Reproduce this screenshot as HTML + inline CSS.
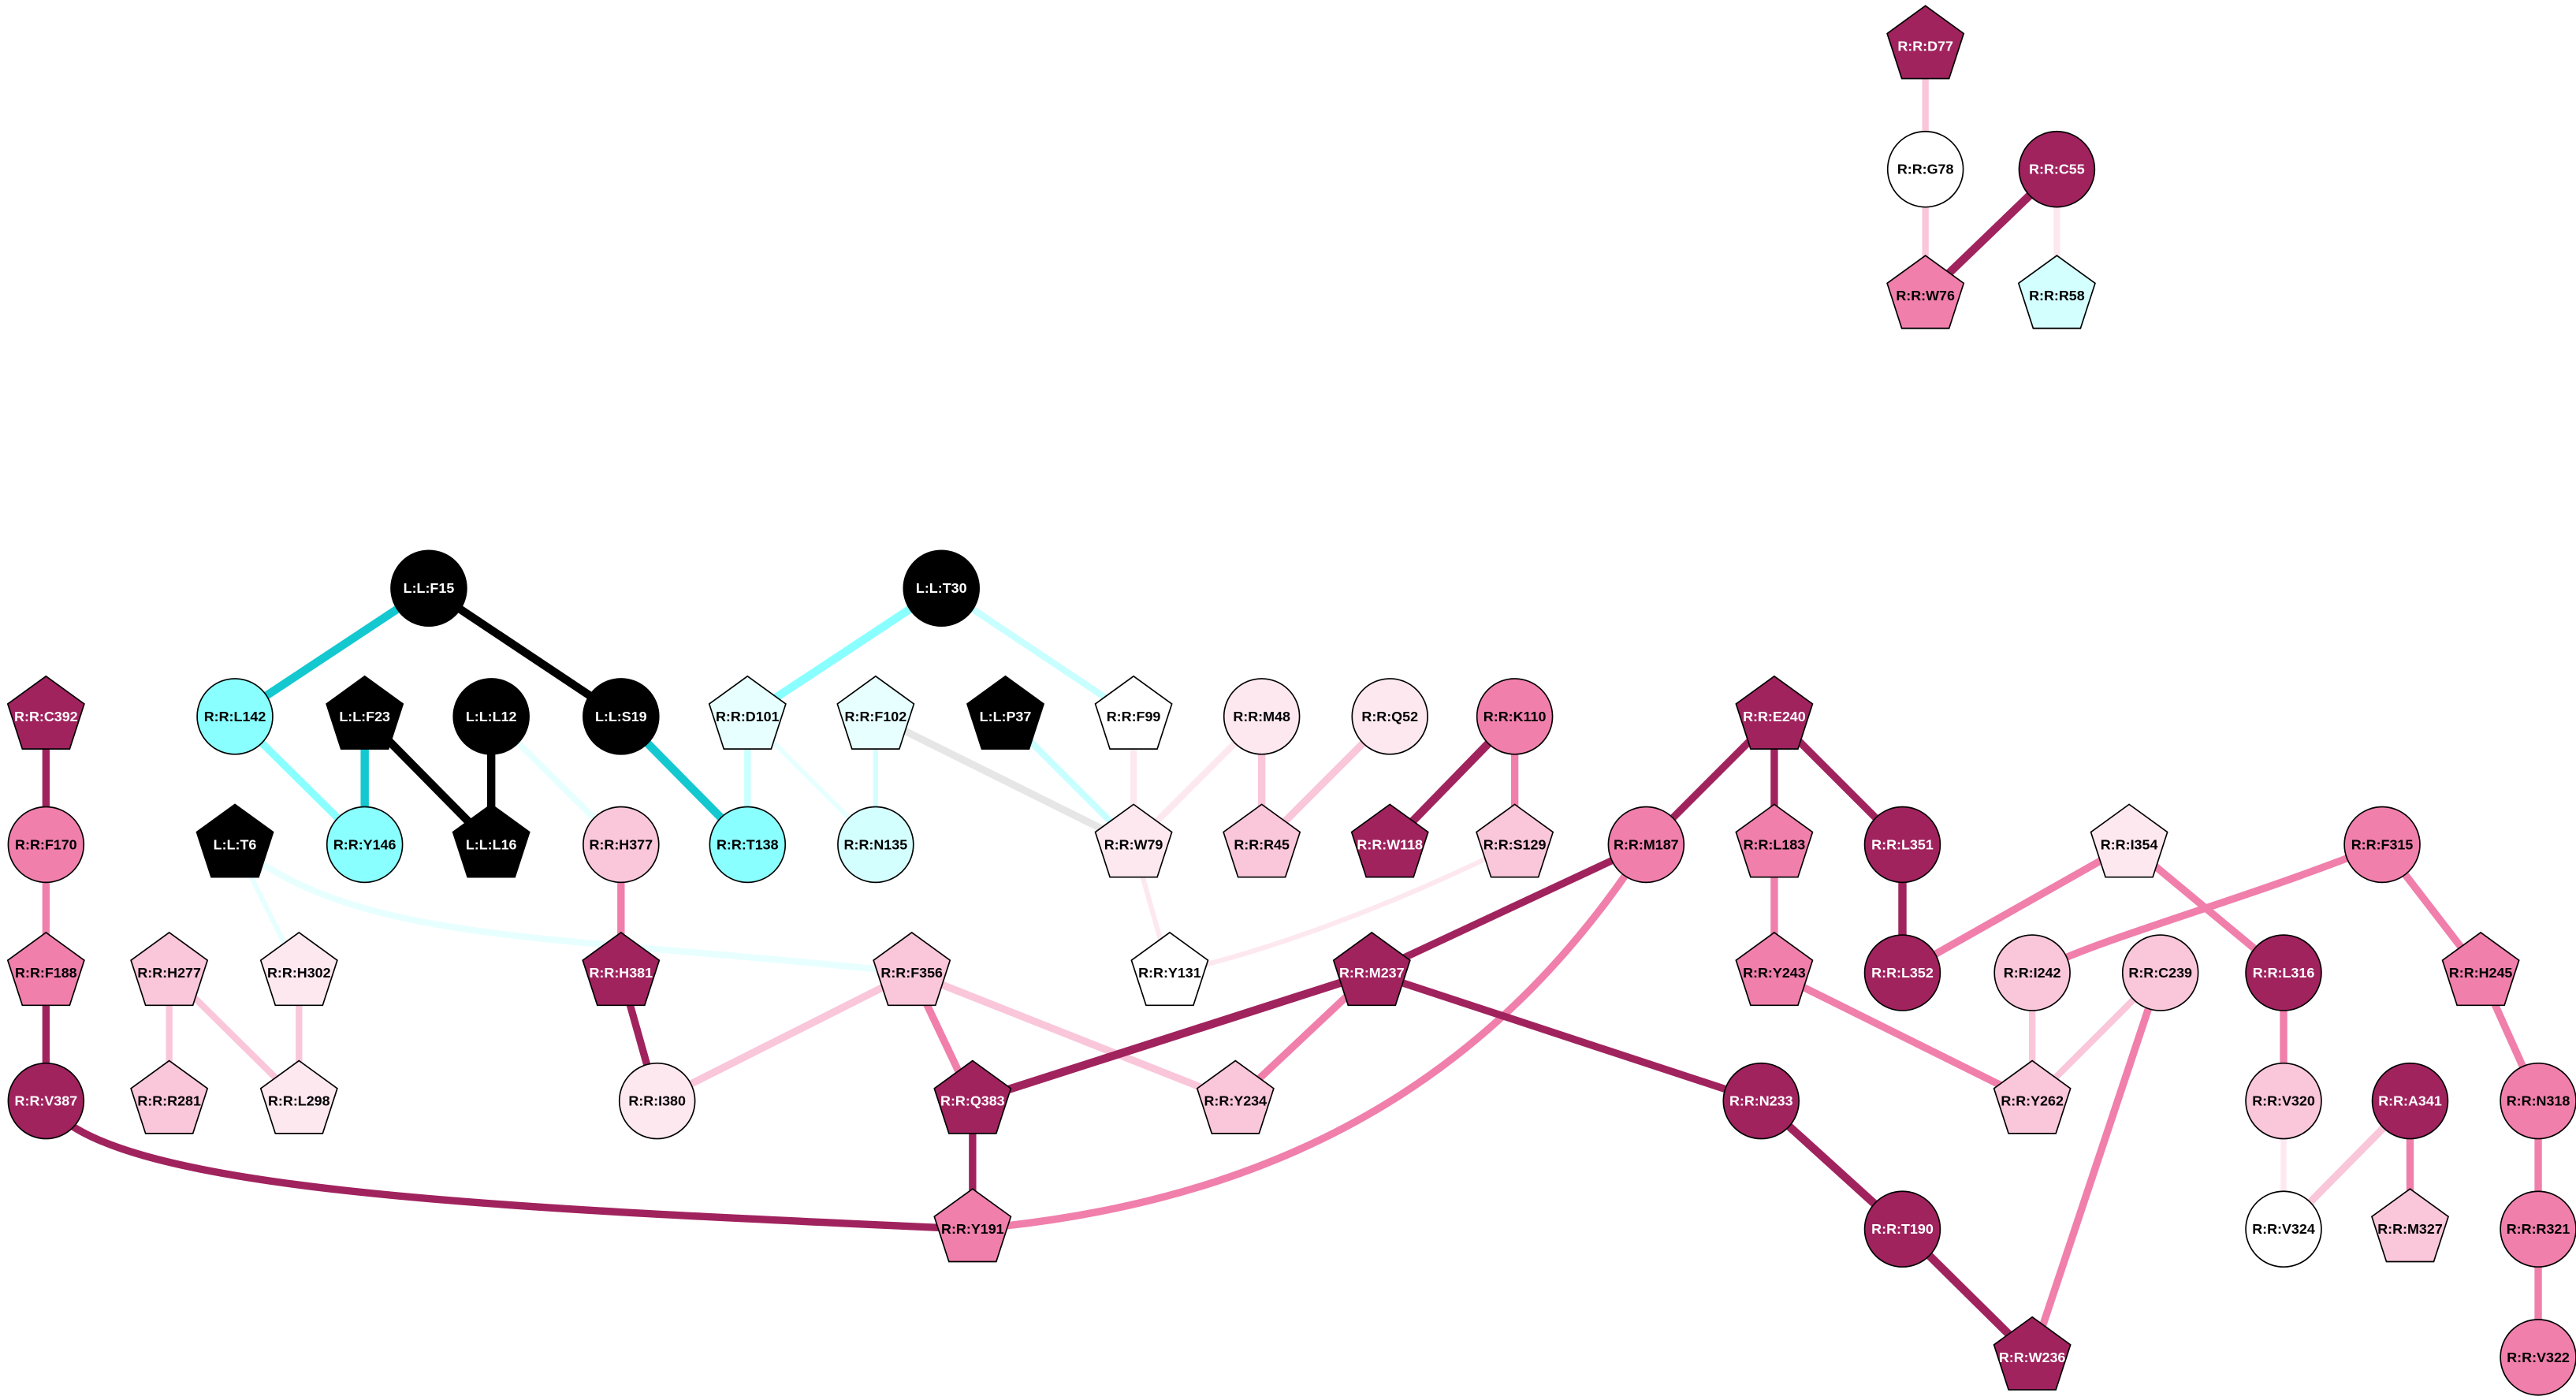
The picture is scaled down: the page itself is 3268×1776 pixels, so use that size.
<!DOCTYPE html>
<html><head><meta charset="utf-8"><style>html,body{margin:0;padding:0;background:#fff}svg{display:block}text{font-family:"Liberation Sans",sans-serif;font-weight:bold;font-size:8.6px;text-anchor:middle;dominant-baseline:central}</style></head>
<body>
<svg width="3268" height="1776" viewBox="0 0 1568 852" preserveAspectRatio="none" xmlns="http://www.w3.org/2000/svg">
<defs><polygon id="p" points="0,-24.5 23.3,-7.6 14.4,19.8 -14.4,19.8 -23.3,-7.6" stroke="#000" stroke-width="0.8"/></defs>
<g fill="none" stroke-linecap="butt">
<line x1="1172" y1="28" x2="1172" y2="103" stroke="#f9c6da" stroke-width="4"/>
<line x1="1172" y1="103" x2="1172" y2="180" stroke="#f9c6da" stroke-width="4"/>
<line x1="1252" y1="103" x2="1172" y2="180" stroke="#a0235e" stroke-width="5"/>
<line x1="1252" y1="103" x2="1252" y2="180" stroke="#fde8f0" stroke-width="4"/>
<line x1="261" y1="358" x2="143" y2="436" stroke="#14c8d0" stroke-width="5"/>
<line x1="261" y1="358" x2="378" y2="436" stroke="#000" stroke-width="5"/>
<line x1="573" y1="358" x2="455" y2="436" stroke="#8affff" stroke-width="5"/>
<line x1="573" y1="358" x2="690" y2="436" stroke="#c8ffff" stroke-width="4"/>
<line x1="28" y1="436" x2="28" y2="514" stroke="#a0235e" stroke-width="4.5"/>
<line x1="143" y1="436" x2="222" y2="514" stroke="#8affff" stroke-width="4.5"/>
<line x1="222" y1="436" x2="222" y2="514" stroke="#14c8d0" stroke-width="5"/>
<line x1="222" y1="436" x2="299" y2="514" stroke="#000" stroke-width="5"/>
<line x1="299" y1="436" x2="299" y2="514" stroke="#000" stroke-width="5"/>
<line x1="299" y1="436" x2="378" y2="514" stroke="#e8ffff" stroke-width="4"/>
<line x1="378" y1="436" x2="455" y2="514" stroke="#14c8d0" stroke-width="5"/>
<line x1="455" y1="436" x2="455" y2="514" stroke="#c8ffff" stroke-width="4"/>
<line x1="455" y1="436" x2="533" y2="514" stroke="#e8ffff" stroke-width="3"/>
<line x1="533" y1="436" x2="533" y2="514" stroke="#d4ffff" stroke-width="3"/>
<line x1="533" y1="436" x2="690" y2="514" stroke="#e6e6e6" stroke-width="4.5"/>
<line x1="612" y1="436" x2="690" y2="514" stroke="#c8ffff" stroke-width="4"/>
<line x1="690" y1="436" x2="690" y2="514" stroke="#fde8f0" stroke-width="4"/>
<line x1="768" y1="436" x2="690" y2="514" stroke="#fde8f0" stroke-width="4"/>
<line x1="768" y1="436" x2="768" y2="514" stroke="#f9c6da" stroke-width="4.5"/>
<line x1="846" y1="436" x2="768" y2="514" stroke="#f9c6da" stroke-width="4.5"/>
<line x1="922" y1="436" x2="846" y2="514" stroke="#a0235e" stroke-width="5"/>
<line x1="922" y1="436" x2="922" y2="514" stroke="#f07fab" stroke-width="4.5"/>
<line x1="1080" y1="436" x2="1002" y2="514" stroke="#a0235e" stroke-width="4.5"/>
<line x1="1080" y1="436" x2="1080" y2="514" stroke="#a0235e" stroke-width="4.5"/>
<line x1="1080" y1="436" x2="1158" y2="514" stroke="#a0235e" stroke-width="4.5"/>
<line x1="28" y1="514" x2="28" y2="592" stroke="#f07fab" stroke-width="4.5"/>
<line x1="143" y1="514" x2="182" y2="592" stroke="#e8ffff" stroke-width="3"/>
<path d="M143,514 C220,575 330,568 555,592" stroke="#e8ffff" stroke-width="4"/>
<line x1="378" y1="514" x2="378" y2="592" stroke="#f07fab" stroke-width="4.5"/>
<line x1="690" y1="514" x2="712" y2="592" stroke="#fde8f0" stroke-width="3"/>
<path d="M922,514 C850,550 770,580 712,592" stroke="#fde8f0" stroke-width="3"/>
<line x1="1002" y1="514" x2="835" y2="592" stroke="#a0235e" stroke-width="4.5"/>
<path d="M1002,514 C920,640 800,730 592,748" stroke="#f07fab" stroke-width="4.5"/>
<line x1="1080" y1="514" x2="1080" y2="592" stroke="#f07fab" stroke-width="4.5"/>
<line x1="1158" y1="514" x2="1158" y2="592" stroke="#a0235e" stroke-width="5"/>
<line x1="1296" y1="514" x2="1158" y2="592" stroke="#f07fab" stroke-width="4.5"/>
<line x1="1296" y1="514" x2="1390" y2="592" stroke="#f07fab" stroke-width="4.5"/>
<path d="M1450,514 C1360,550 1280,570 1237,592" stroke="#f07fab" stroke-width="4.5"/>
<line x1="1450" y1="514" x2="1510" y2="592" stroke="#f07fab" stroke-width="4.5"/>
<line x1="28" y1="592" x2="28" y2="670" stroke="#a0235e" stroke-width="4.5"/>
<line x1="103" y1="592" x2="103" y2="670" stroke="#f9c6da" stroke-width="4"/>
<line x1="103" y1="592" x2="182" y2="670" stroke="#f9c6da" stroke-width="4"/>
<line x1="182" y1="592" x2="182" y2="670" stroke="#f9c6da" stroke-width="4"/>
<line x1="378" y1="592" x2="400" y2="670" stroke="#a0235e" stroke-width="4.5"/>
<line x1="555" y1="592" x2="400" y2="670" stroke="#f9c6da" stroke-width="4.5"/>
<line x1="555" y1="592" x2="592" y2="670" stroke="#f07fab" stroke-width="4.5"/>
<line x1="555" y1="592" x2="752" y2="670" stroke="#f9c6da" stroke-width="4.5"/>
<line x1="835" y1="592" x2="592" y2="670" stroke="#a0235e" stroke-width="5"/>
<line x1="835" y1="592" x2="752" y2="670" stroke="#f07fab" stroke-width="4.5"/>
<line x1="835" y1="592" x2="1072" y2="670" stroke="#a0235e" stroke-width="4.5"/>
<line x1="1080" y1="592" x2="1237" y2="670" stroke="#f07fab" stroke-width="4.5"/>
<line x1="1237" y1="592" x2="1237" y2="670" stroke="#f9c6da" stroke-width="4"/>
<line x1="1315" y1="592" x2="1237" y2="670" stroke="#f9c6da" stroke-width="4"/>
<line x1="1315" y1="592" x2="1237" y2="826" stroke="#f07fab" stroke-width="4.5"/>
<line x1="1390" y1="592" x2="1390" y2="670" stroke="#f07fab" stroke-width="4.5"/>
<line x1="1510" y1="592" x2="1545" y2="670" stroke="#f07fab" stroke-width="4.5"/>
<path d="M28,670 C60,725 300,735 592,748" stroke="#a0235e" stroke-width="4.5"/>
<line x1="592" y1="670" x2="592" y2="748" stroke="#a0235e" stroke-width="4.5"/>
<line x1="1072" y1="670" x2="1158" y2="748" stroke="#a0235e" stroke-width="5"/>
<line x1="1158" y1="748" x2="1237" y2="826" stroke="#a0235e" stroke-width="5"/>
<line x1="1390" y1="670" x2="1390" y2="748" stroke="#fde8f0" stroke-width="3.5"/>
<line x1="1467" y1="670" x2="1390" y2="748" stroke="#f9c6da" stroke-width="4.5"/>
<line x1="1467" y1="670" x2="1467" y2="748" stroke="#f07fab" stroke-width="4.5"/>
<line x1="1545" y1="670" x2="1545" y2="748" stroke="#f07fab" stroke-width="4.5"/>
<line x1="1545" y1="748" x2="1545" y2="826" stroke="#f07fab" stroke-width="4.5"/>
</g>
<g stroke="#000" stroke-width="0.8">
<circle cx="1172" cy="103" r="23" fill="#fff"/>
<circle cx="1252" cy="103" r="23" fill="#a0235e"/>
<circle cx="261" cy="358" r="23" fill="#000"/>
<circle cx="573" cy="358" r="23" fill="#000"/>
<circle cx="143" cy="436" r="23" fill="#8affff"/>
<circle cx="299" cy="436" r="23" fill="#000"/>
<circle cx="378" cy="436" r="23" fill="#000"/>
<circle cx="768" cy="436" r="23" fill="#fde8f0"/>
<circle cx="846" cy="436" r="23" fill="#fde8f0"/>
<circle cx="922" cy="436" r="23" fill="#f07fab"/>
<circle cx="28" cy="514" r="23" fill="#f07fab"/>
<circle cx="222" cy="514" r="23" fill="#8affff"/>
<circle cx="378" cy="514" r="23" fill="#f9c6da"/>
<circle cx="455" cy="514" r="23" fill="#8affff"/>
<circle cx="533" cy="514" r="23" fill="#d4ffff"/>
<circle cx="1002" cy="514" r="23" fill="#f07fab"/>
<circle cx="1158" cy="514" r="23" fill="#a0235e"/>
<circle cx="1450" cy="514" r="23" fill="#f07fab"/>
<circle cx="1158" cy="592" r="23" fill="#a0235e"/>
<circle cx="1237" cy="592" r="23" fill="#f9c6da"/>
<circle cx="1315" cy="592" r="23" fill="#f9c6da"/>
<circle cx="1390" cy="592" r="23" fill="#a0235e"/>
<circle cx="28" cy="670" r="23" fill="#a0235e"/>
<circle cx="400" cy="670" r="23" fill="#fde8f0"/>
<circle cx="1072" cy="670" r="23" fill="#a0235e"/>
<circle cx="1390" cy="670" r="23" fill="#f9c6da"/>
<circle cx="1467" cy="670" r="23" fill="#a0235e"/>
<circle cx="1545" cy="670" r="23" fill="#f07fab"/>
<circle cx="1158" cy="748" r="23" fill="#a0235e"/>
<circle cx="1390" cy="748" r="23" fill="#fff"/>
<circle cx="1545" cy="748" r="23" fill="#f07fab"/>
<circle cx="1545" cy="826" r="23" fill="#f07fab"/>
</g>
<g>
<use href="#p" x="1172" y="28" fill="#a0235e"/>
<use href="#p" x="1172" y="180" fill="#f07fab"/>
<use href="#p" x="1252" y="180" fill="#d4ffff"/>
<use href="#p" x="28" y="436" fill="#a0235e"/>
<use href="#p" x="222" y="436" fill="#000"/>
<use href="#p" x="455" y="436" fill="#e8ffff"/>
<use href="#p" x="533" y="436" fill="#e8ffff"/>
<use href="#p" x="612" y="436" fill="#000"/>
<use href="#p" x="690" y="436" fill="#fff"/>
<use href="#p" x="1080" y="436" fill="#a0235e"/>
<use href="#p" x="143" y="514" fill="#000"/>
<use href="#p" x="299" y="514" fill="#000"/>
<use href="#p" x="690" y="514" fill="#fde8f0"/>
<use href="#p" x="768" y="514" fill="#f9c6da"/>
<use href="#p" x="846" y="514" fill="#a0235e"/>
<use href="#p" x="922" y="514" fill="#f9c6da"/>
<use href="#p" x="1080" y="514" fill="#f07fab"/>
<use href="#p" x="1296" y="514" fill="#fde8f0"/>
<use href="#p" x="28" y="592" fill="#f07fab"/>
<use href="#p" x="103" y="592" fill="#f9c6da"/>
<use href="#p" x="182" y="592" fill="#fde8f0"/>
<use href="#p" x="378" y="592" fill="#a0235e"/>
<use href="#p" x="555" y="592" fill="#f9c6da"/>
<use href="#p" x="712" y="592" fill="#fff"/>
<use href="#p" x="835" y="592" fill="#a0235e"/>
<use href="#p" x="1080" y="592" fill="#f07fab"/>
<use href="#p" x="1510" y="592" fill="#f07fab"/>
<use href="#p" x="103" y="670" fill="#f9c6da"/>
<use href="#p" x="182" y="670" fill="#fde8f0"/>
<use href="#p" x="592" y="670" fill="#a0235e"/>
<use href="#p" x="752" y="670" fill="#f9c6da"/>
<use href="#p" x="1237" y="670" fill="#f9c6da"/>
<use href="#p" x="592" y="748" fill="#f07fab"/>
<use href="#p" x="1467" y="748" fill="#f9c6da"/>
<use href="#p" x="1237" y="826" fill="#a0235e"/>
</g>
<g fill="#000">
<text x="1172" y="103">R:R:G78</text>
<text x="1172" y="180">R:R:W76</text>
<text x="1252" y="180">R:R:R58</text>
<text x="143" y="436">R:R:L142</text>
<text x="455" y="436">R:R:D101</text>
<text x="533" y="436">R:R:F102</text>
<text x="690" y="436">R:R:F99</text>
<text x="768" y="436">R:R:M48</text>
<text x="846" y="436">R:R:Q52</text>
<text x="922" y="436">R:R:K110</text>
<text x="28" y="514">R:R:F170</text>
<text x="222" y="514">R:R:Y146</text>
<text x="378" y="514">R:R:H377</text>
<text x="455" y="514">R:R:T138</text>
<text x="533" y="514">R:R:N135</text>
<text x="690" y="514">R:R:W79</text>
<text x="768" y="514">R:R:R45</text>
<text x="922" y="514">R:R:S129</text>
<text x="1002" y="514">R:R:M187</text>
<text x="1080" y="514">R:R:L183</text>
<text x="1296" y="514">R:R:I354</text>
<text x="1450" y="514">R:R:F315</text>
<text x="28" y="592">R:R:F188</text>
<text x="103" y="592">R:R:H277</text>
<text x="182" y="592">R:R:H302</text>
<text x="555" y="592">R:R:F356</text>
<text x="712" y="592">R:R:Y131</text>
<text x="1080" y="592">R:R:Y243</text>
<text x="1237" y="592">R:R:I242</text>
<text x="1315" y="592">R:R:C239</text>
<text x="1510" y="592">R:R:H245</text>
<text x="103" y="670">R:R:R281</text>
<text x="182" y="670">R:R:L298</text>
<text x="400" y="670">R:R:I380</text>
<text x="752" y="670">R:R:Y234</text>
<text x="1237" y="670">R:R:Y262</text>
<text x="1390" y="670">R:R:V320</text>
<text x="1545" y="670">R:R:N318</text>
<text x="592" y="748">R:R:Y191</text>
<text x="1390" y="748">R:R:V324</text>
<text x="1467" y="748">R:R:M327</text>
<text x="1545" y="748">R:R:R321</text>
<text x="1545" y="826">R:R:V322</text>
</g>
<g fill="#fff">
<text x="1172" y="28">R:R:D77</text>
<text x="1252" y="103">R:R:C55</text>
<text x="261" y="358">L:L:F15</text>
<text x="573" y="358">L:L:T30</text>
<text x="28" y="436">R:R:C392</text>
<text x="222" y="436">L:L:F23</text>
<text x="299" y="436">L:L:L12</text>
<text x="378" y="436">L:L:S19</text>
<text x="612" y="436">L:L:P37</text>
<text x="1080" y="436">R:R:E240</text>
<text x="143" y="514">L:L:T6</text>
<text x="299" y="514">L:L:L16</text>
<text x="846" y="514">R:R:W118</text>
<text x="1158" y="514">R:R:L351</text>
<text x="378" y="592">R:R:H381</text>
<text x="835" y="592">R:R:M237</text>
<text x="1158" y="592">R:R:L352</text>
<text x="1390" y="592">R:R:L316</text>
<text x="28" y="670">R:R:V387</text>
<text x="592" y="670">R:R:Q383</text>
<text x="1072" y="670">R:R:N233</text>
<text x="1467" y="670">R:R:A341</text>
<text x="1158" y="748">R:R:T190</text>
<text x="1237" y="826">R:R:W236</text>
</g>
</svg>
</body></html>
